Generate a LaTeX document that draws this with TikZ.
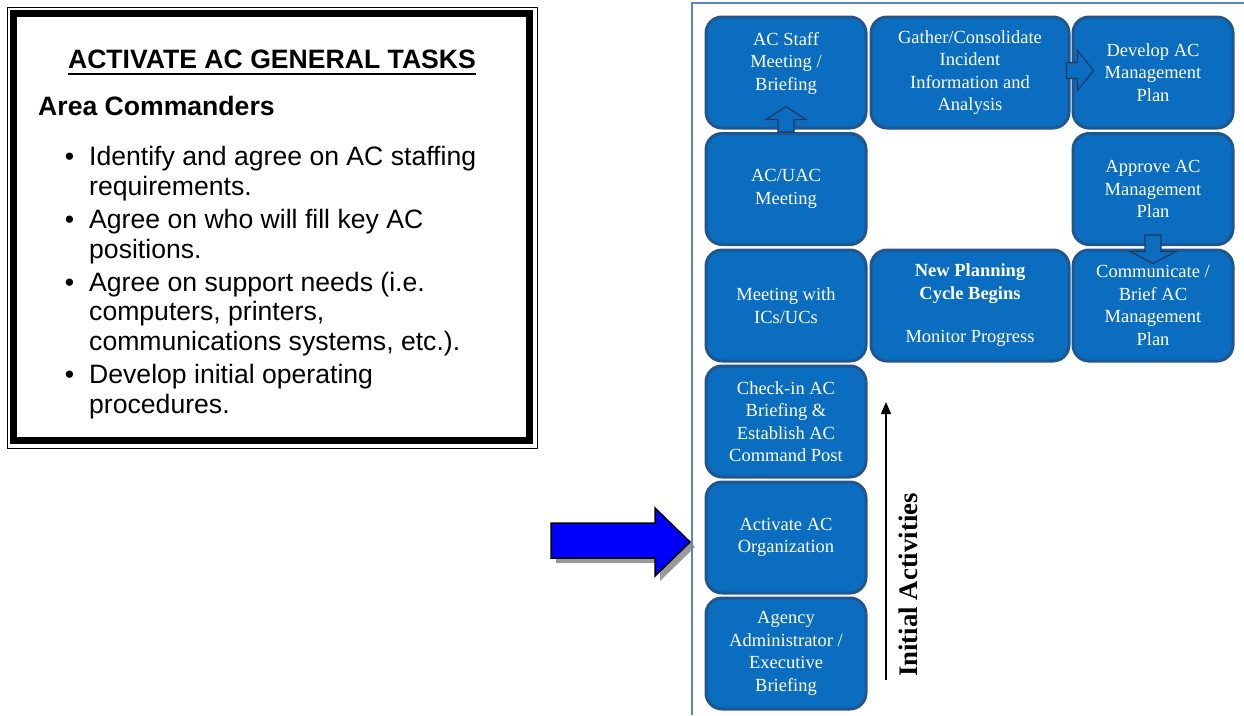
\documentclass[tikz,border=0pt]{standalone}
\usepackage{fontspec}
\setmainfont{Liberation Serif}
\newfontfamily\arialfont{Liberation Sans}
\usetikzlibrary{arrows.meta, positioning, calc}
\definecolor{boxblue}{HTML}{0A6DC0}
\definecolor{boxedge}{HTML}{1F5690}
\definecolor{arrownavy}{HTML}{1F3864}
\definecolor{framegray}{HTML}{5B86C0}
\definecolor{shadowgray}{HTML}{9A9A9A}

\begin{document}
\begin{tikzpicture}[x=1pt, y=-1pt,
    box/.style={rectangle, rounded corners=16pt, draw=boxedge, line width=3pt,
                fill=boxblue, minimum width=160pt, minimum height=111pt,
                align=center, text=white, inner sep=2pt,
                font=\fontsize{18.5}{22.5}\selectfont},
    widebox/.style={box, minimum width=198pt},
    blockarrow/.style={fill=boxblue, draw=arrownavy, line width=1.2pt},
    tasktext/.style={anchor=base west, align=left, inner sep=0pt,
                     font=\arialfont\fontsize{26.6}{29.5}\selectfont}
]
\useasboundingbox (0,0) rectangle (1244,715);

% task panel on the left
\draw[line width=1pt] (7,7) rectangle (537,448);
\draw[line width=7pt] (13,13) rectangle (529.5,440.5);
\node[anchor=base, inner sep=0pt, font=\arialfont\bfseries\fontsize{26.6}{29.5}\selectfont]
    (title) at (272,68) {ACTIVATE AC GENERAL TASKS};
\draw[line width=2pt] ($(title.base west)+(0,6)$) -- ($(title.base east)+(0,6)$);
\node[tasktext, font=\arialfont\bfseries\fontsize{26.6}{29.5}\selectfont]
    (who) at (38,115) {Area Commanders};
% base of these nodes is the last line
\node[tasktext] (item1) at (89,195)
    {\llap{\textbullet\hspace{15pt}}Identify and agree on AC staffing\\requirements.};
\node[tasktext] (item2) at (89,258)
    {\llap{\textbullet\hspace{15pt}}Agree on who will fill key AC\\positions.};
\node[tasktext] (item3) at (89,350)
    {\llap{\textbullet\hspace{15pt}}Agree on support needs (i.e.\\computers, printers,\\communications systems, etc.).};
\node[tasktext] (item4) at (89,413)
    {\llap{\textbullet\hspace{15pt}}Develop initial operating\\procedures.};

% big pointer
\fill[shadowgray, xshift=5pt, yshift=-5pt]
    (551,523) -- (655,523) -- (655,508) -- (690,542) -- (655,576) -- (655,558) -- (551,558) -- cycle;
\draw[fill=blue, line width=1.5pt]
    (551,523) -- (655,523) -- (655,508) -- (690,542) -- (655,576) -- (655,558) -- (551,558) -- cycle;

% process frame
\draw[framegray, line width=1.5pt] (692,715) -- (692,3) -- (1244,3);

\node[box]     (staff)    at (786,72.5)  {AC Staff\\Meeting /\\Briefing\\};
\node[widebox] (gather)   at (970,72.5)  {Gather/Consolidate\\Incident\\Information and\\Analysis};
\node[box]     (develop)  at (1153,72.5) {Develop AC\\Management\\Plan};
\node[box]     (uac)      at (786,189)   {AC/UAC\\Meeting};
\node[box]     (approve)  at (1153,189)  {Approve AC\\Management\\Plan};
\node[box]     (icuc)     at (786,305.5) {Meeting with\\ICs/UCs};
\node[widebox] (cycle)    at (970,305.5) {\textbf{New Planning}\\\textbf{Cycle Begins}\\[21pt]Monitor Progress};
\node[box]     (brief)    at (1153,305.5) {Communicate /\\Brief AC\\Management\\Plan};
\node[box]     (checkin)  at (786,421.5) {Check-in AC\\Briefing \&\\Establish AC\\Command Post};
\node[box]     (activate) at (786,537.5) {Activate AC\\Organization};
\node[box]     (agency)   at (786,653.5) {Agency\\Administrator /\\Executive\\Briefing};

% block arrows between the boxes
\draw[blockarrow] ($(uac.north)+(-8,0)$) -- ($(staff.south)+(-8,-10)$)
    -- ($(staff.south)+(-20,-10)$) -- ($(staff.south)+(0,-23)$)
    -- ($(staff.south)+(20,-10)$) -- ($(staff.south)+(8,-10)$)
    -- ($(uac.north)+(8,0)$) -- cycle;
\draw[blockarrow] ($(gather.east)+(-4,-10)$) -- ($(develop.west)+(6,-10)$)
    -- ($(develop.west)+(6,-22)$) -- ($(develop.west)+(22,-2)$)
    -- ($(develop.west)+(6,18)$) -- ($(develop.west)+(6,6)$)
    -- ($(gather.east)+(-4,6)$) -- cycle;
\draw[blockarrow] ($(approve.south)+(-8,-11)$) -- ($(brief.north)+(-8,3)$)
    -- ($(brief.north)+(-23,3)$) -- ($(brief.north)+(0,15)$)
    -- ($(brief.north)+(23,3)$) -- ($(brief.north)+(8,3)$)
    -- ($(approve.south)+(8,-11)$) -- cycle;

% initial activities
\coordinate (iabottom) at (886,680);
\coordinate (iatop) at (886,402);
\draw[line width=1.4pt, -{Triangle[length=12pt, width=10pt]}] (iabottom) -- (iatop);
\node[rotate=90, font=\bfseries\fontsize{26.8}{30}\selectfont] (initial) at (908,585) {Initial Activities};
\end{tikzpicture}
\end{document}
